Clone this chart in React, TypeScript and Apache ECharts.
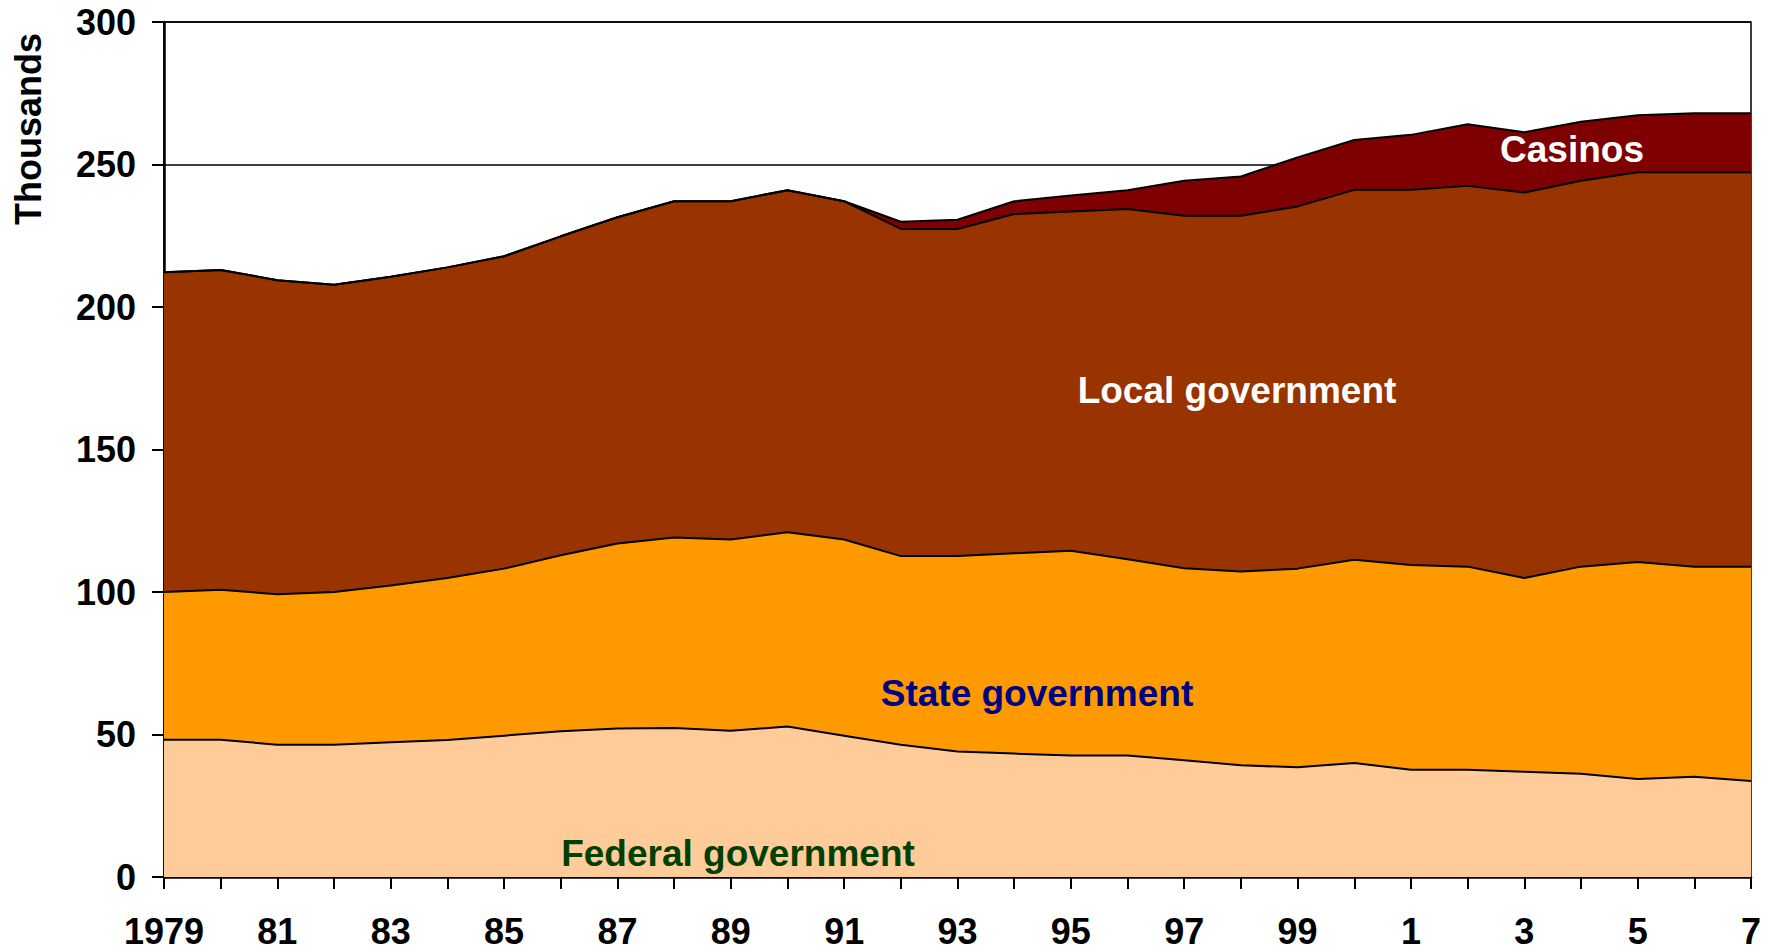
import React, { useEffect, useRef } from "react";
import * as echarts from "echarts";

const years = ["1979","80","81","82","83","84","85","86","87","88","89","90","91","92","93","94","95","96","97","98","99","0","1","2","3","4","5","6","7"];
const federal = [48.2,48.2,46.4,46.4,47.3,48.1,49.6,51.1,52.1,52.3,51.3,52.8,49.6,46.4,44.0,43.3,42.6,42.6,41.0,39.2,38.5,40.0,37.6,37.6,36.9,36.2,34.4,35.2,33.7];
const stateGov = [51.8,52.6,52.8,53.6,55.0,56.8,58.6,61.8,64.9,66.8,67.1,68.2,68.8,66.2,68.6,70.3,71.9,68.9,67.3,68.0,69.7,71.3,71.9,71.3,68.0,72.7,76.1,73.7,75.2];
const localGov = [112.2,112.2,110.2,107.8,108.3,109.0,109.6,111.9,114.5,118.0,118.7,120.0,118.7,114.8,114.8,119.0,119.0,122.9,123.7,124.8,127.1,129.8,131.6,133.6,135.3,135.4,136.8,138.4,138.4];
const casinos = [0,0,0,0,0,0,0,0,0,0,0,0,0,2.5,3.2,4.5,5.6,6.6,12.3,13.8,17.2,17.5,19.3,21.6,21.1,20.7,20.0,20.7,20.7];
const yTicks = [0, 50, 100, 150, 200, 250, 300];

const FONT = "'Liberation Sans', Arial, sans-serif";

export default function App() {
  const ref = useRef<HTMLDivElement>(null);
  useEffect(() => {
    if (!ref.current) return;
    const chart = echarts.init(ref.current, null, { renderer: "svg" });
    const mk = (name: string, data: number[], color: string) => ({
      name,
      type: "line",
      stack: "total",
      data,
      symbol: "none",
      smooth: false,
      lineStyle: { color: "#000", width: 2 },
      areaStyle: { color, opacity: 1 },
      itemStyle: { color },
    });
    const label = (text: string, x: number, y: number, fill: string) => ({
      type: "text",
      x,
      y,
      z: 100,
      style: {
        text,
        fill,
        fontSize: 37,
        fontWeight: "bold",
        fontFamily: FONT,
        textAlign: "center",
        textVerticalAlign: "middle",
      },
    });
    chart.setOption({
      animation: false,
      backgroundColor: "#fff",
      grid: {
        left: 164,
        right: 24,
        top: 22,
        bottom: 73,
        show: true,
        borderColor: "#000",
        borderWidth: 1.5,
        backgroundColor: "transparent",
      },
      xAxis: {
        type: "category",
        data: years,
        boundaryGap: false,
        axisLine: { show: true, lineStyle: { color: "#000", width: 2.5 } },
        axisTick: { show: true, interval: 0, length: 12, inside: false, lineStyle: { color: "#000", width: 2 } },
        axisLabel: {
          interval: 1,
          margin: 40,
          lineHeight: 28,
          color: "#000",
          fontSize: 36,
          fontWeight: "bold",
          fontFamily: FONT,
        },
        splitLine: { show: false },
      },
      yAxis: {
        type: "value",
        min: yTicks[0],
        max: yTicks[yTicks.length - 1],
        interval: 50,
        axisLine: { show: true, lineStyle: { color: "#000", width: 2.5 } },
        axisTick: { show: true, length: 12, lineStyle: { color: "#000", width: 2 } },
        axisLabel: {
          margin: 28,
          color: "#000",
          fontSize: 36,
          fontWeight: "bold",
          fontFamily: FONT,
        },
        splitLine: { show: true, lineStyle: { color: "#000", width: 1.5 } },
      },
      series: [
        mk("Federal government", federal, "#FFCC99"),
        mk("State government", stateGov, "#FF9900"),
        mk("Local government", localGov, "#993300"),
        mk("Casinos", casinos, "#7F0000"),
      ],
      graphic: [
        {
          type: "text",
          x: 28,
          y: 129,
          z: 100,
          rotation: Math.PI / 2,
          style: {
            text: "Thousands",
            fill: "#000",
            fontSize: 36,
            fontWeight: "bold",
            fontFamily: FONT,
            textAlign: "center",
            textVerticalAlign: "middle",
          },
        },
        label("Casinos", 1572, 149, "#fff"),
        label("Local government", 1237, 390, "#fff"),
        label("State government", 1037, 693, "#000080"),
        label("Federal government", 738, 853, "#004000"),
      ],
    });
    return () => chart.dispose();
  }, []);
  return <div ref={ref} style={{ position: "fixed", left: 0, top: 0, width: 1775, height: 950 }} />;
}
